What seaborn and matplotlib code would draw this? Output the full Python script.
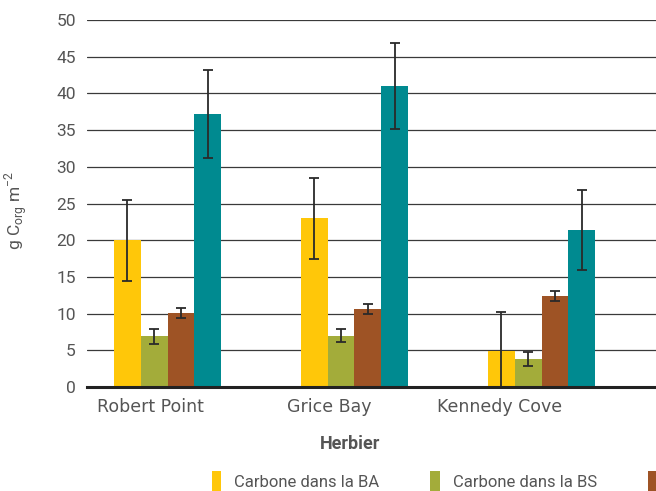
import matplotlib
matplotlib.use("Agg")
import matplotlib.pyplot as plt
import seaborn as sns
import pandas as pd
import numpy as np
from matplotlib.patches import Patch

sites = ["Robert Point", "Grice Bay", "Kennedy Cove"]
series = ["Carbone dans la BA", "Carbone dans la BS",
          "Carbone dans la litière", "Carbone dans les sédiments"]
colors = ["#FFC709", "#A3AC3A", "#9E5325", "#008A90"]

val_ba = [20.0, 23.0, 4.9]
val_bs = [6.9, 7.0, 3.8]
val_lit = [10.1, 10.6, 12.4]
val_sed = [37.2, 41.0, 21.4]

err_ba = [5.5, 5.5, 5.3]
err_bs = [1.0, 0.9, 1.0]
err_lit = [0.7, 0.7, 0.65]
err_sed = [6.0, 5.9, 5.5]

values = [val_ba, val_bs, val_lit, val_sed]
errors = [err_ba, err_bs, err_lit, err_sed]

rows = []
for s, vals in zip(series, values):
    for site, v in zip(sites, vals):
        rows.append({"Herbier": site, "Série": s, "val": v})
df = pd.DataFrame(rows)

sns.set_theme(style="white")
plt.rcParams["font.family"] = ["Roboto", "DejaVu Sans"]

fig = plt.figure(figsize=(6.56, 4.91), dpi=100)
ax = fig.add_axes([87 / 656, 1 - 387 / 491, (656 - 87) / 656, (387 - 20) / 491])

sns.barplot(data=df, x="Herbier", y="val", hue="Série", order=sites,
            hue_order=series, palette=colors, width=0.572, saturation=1,
            errorbar=None, ax=ax, legend=False, linewidth=0)

# error bars
for i, (s, errs) in enumerate(zip(series, errors)):
    cont = ax.containers[i]
    xs = [p.get_x() + p.get_width() / 2 for p in cont.patches]
    ys = [p.get_height() for p in cont.patches]
    ax.errorbar(xs, ys, yerr=errs, fmt="none", ecolor="#2a2a2a",
                elinewidth=1.3, capsize=3.5, capthick=1.3, zorder=5)

ax.set_ylim(0, 50)
ax.set_yticks(np.arange(0, 51, 5))
ax.set_xlim(-(167.5 - 87) / 187, (656 - 167.5) / 187)
ax.yaxis.grid(True, color="#3a3a3a", linewidth=0.9)
ax.set_axisbelow(True)
for sp in ["top", "right", "left"]:
    ax.spines[sp].set_visible(False)
ax.spines["bottom"].set_color("#222222")
ax.spines["bottom"].set_linewidth(2.2)
ax.spines["bottom"].set_zorder(6)

ax.tick_params(axis="y", length=0, pad=8, labelsize=12.5, labelcolor="#555555")
ax.tick_params(axis="x", length=0, pad=8, labelsize=12.5, labelcolor="#555555")
ax.set_xticks([(150 - 167.5) / 187, (329 - 167.5) / 187, (500 - 167.5) / 187])
ax.set_xticklabels(sites)
for lab in ax.get_xticklabels():
    lab.set_fontfamily(["DejaVu Sans"])

ax.set_xlabel("Herbier", fontsize=13, fontweight="bold", color="#555555",
              labelpad=6)
ax.xaxis.set_label_coords((350 - 87) / (656 - 87), -48 / 367)
ax.set_ylabel(r"g C$_{\mathregular{org}}$ m$^{\mathregular{-2}}$",
              fontsize=12.5, color="#555555", labelpad=10)
ax.yaxis.set_label_coords(-(87 - 30) / (656 - 87), 0.48)

# legend: the reference only shows the first two labels and the edge of the third key
handles = [Patch(facecolor=c, edgecolor="none") for c in colors[:3]]
leg_labels = [series[0], series[1], ""]
fig.legend(handles, leg_labels, loc="center left",
           bbox_to_anchor=(212 / 656, 1 - 481 / 491), ncol=3, frameon=False,
           handlelength=0.55, handleheight=1.4, handletextpad=0.8,
           columnspacing=3.05,
           prop={"family": ["Liberation Sans Narrow", "Roboto", "DejaVu Sans"], "size": 12},
           labelcolor="#555555", borderaxespad=0, borderpad=0)

fig.savefig("out.png", dpi=100)
